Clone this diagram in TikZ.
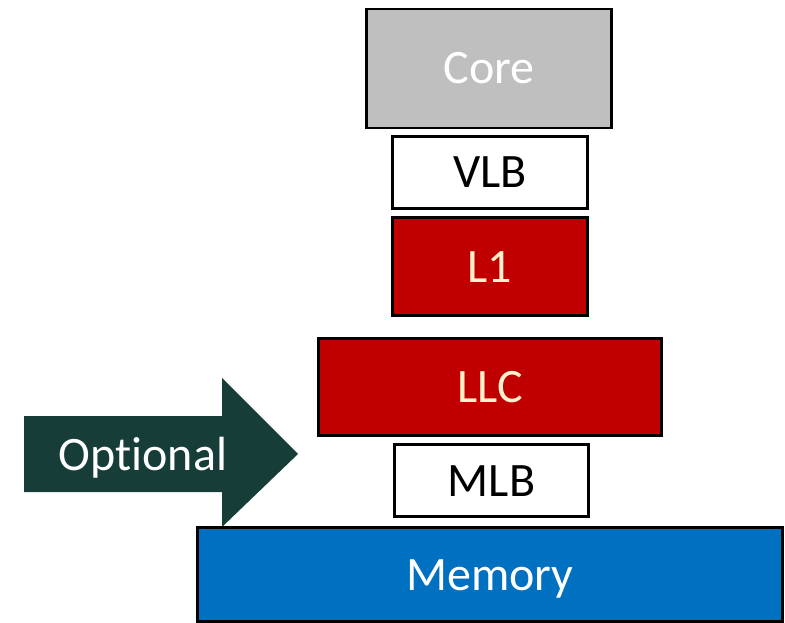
\documentclass[tikz,border=0pt]{standalone}
\usepackage{fontspec}
\setmainfont{Carlito}[Ligatures=NoCommon]
\definecolor{coregray}{HTML}{BFBFBF}
\definecolor{cachered}{HTML}{C00000}
\definecolor{cachetext}{HTML}{FFF2CC}
\definecolor{memblue}{HTML}{0070C0}
\definecolor{optgreen}{RGB}{22,61,56}
\begin{document}
\begin{tikzpicture}[x=1pt,y=-1pt,
  label text/.style={font=\fontsize{48}{56}\selectfont, text height=31pt, text depth=0pt},
  level/.style={label text, draw=black, line width=2.4pt, inner sep=0pt},
  whitebox/.style={level, fill=white, text=black},
  redbox/.style={level, fill=cachered, text=cachetext},
]
\useasboundingbox (0,0) rectangle (785,623);
% the "Optional" arrow pointing at the stack
\fill[optgreen] (24,416) -- (222,416) -- (222,378) -- (298,454) -- (222,527) -- (222,492) -- (24,492) -- cycle;
\node[label text, text=white, inner sep=0pt] (opt) at (143,455) {Optional};
% memory hierarchy, top to bottom
\node[level, fill=coregray, text=white, minimum width=245, minimum height=119] (core) at (489,68.5) {Core};
\node[whitebox, minimum width=195, minimum height=72] (vlb) at (490,172.5) {VLB};
\node[redbox, minimum width=195, minimum height=98] (l1) at (490,266.5) {L1};
\node[redbox, minimum width=343, minimum height=97] (llc) at (490,387) {LLC};
\node[whitebox, minimum width=194, minimum height=72] (mlb) at (491.5,480.5) {MLB};
\node[level, fill=memblue, text=white, minimum width=585, minimum height=94] (mem) at (490,574.5) {Memory};
\end{tikzpicture}
\end{document}
